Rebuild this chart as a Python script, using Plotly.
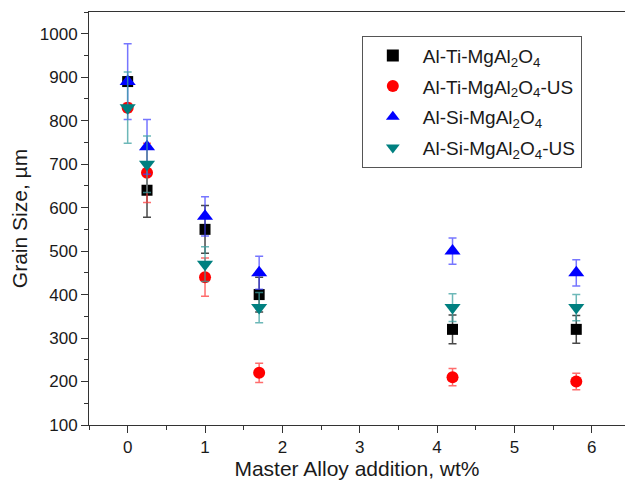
import plotly.graph_objects as go

x_vals = [0, 0.25, 1, 1.7, 4.2, 5.8]

ti = [890, 640, 550, 400, 320, 320]
ti_err = [10, 62, 55, 40, 33, 32]

ti_us = [830, 680, 440, 220, 210, 200]
ti_us_err = [10, 68, 44, 22, 20, 19]

si = [890, 740, 580, 450, 500, 450]
si_err = [87, 63, 45, 38, 30, 30]

si_us = [830, 700, 470, 370, 370, 370]
si_us_err = [82, 65, 40, 35, 32, 30]

names = ["Al-Ti-MgAl<sub>2</sub>O<sub>4</sub>",
         "Al-Ti-MgAl<sub>2</sub>O<sub>4</sub>-US",
         "Al-Si-MgAl<sub>2</sub>O<sub>4</sub>",
         "Al-Si-MgAl<sub>2</sub>O<sub>4</sub>-US"]

series = [
    (ti, ti_err, "square", "#000000", "rgba(40,40,40,0.85)", 11),
    (ti_us, ti_us_err, "circle", "#ff0000", "rgba(255,60,60,0.75)", 12),
    (si, si_err, "triangle-up", "#0000ff", "rgba(60,60,255,0.7)", 14),
    (si_us, si_us_err, "triangle-down", "#008080", "rgba(60,160,160,0.75)", 14),
]

fig = go.Figure()
for i, (name, (ys, errs, sym, col, ecol, sz)) in enumerate(zip(names, series)):
    fig.add_trace(go.Scatter(
        x=x_vals, y=ys, mode="markers", name=name, legendgroup=f"g{i}",
        marker=dict(symbol=sym, color=col, size=sz, line=dict(width=0)),
        error_y=dict(type="data", array=errs, visible=True,
                     color=ecol, thickness=1.5, width=4),
    ))

font_family = "Liberation Sans, Arial, sans-serif"

fig.update_layout(
    width=625, height=487,
    margin=dict(l=89, r=0, t=12, b=62, autoexpand=False),
    paper_bgcolor="white", plot_bgcolor="white",
    font=dict(family=font_family, color="#1a1a1a"),
    showlegend=True,
    legend=dict(
        x=0.509, y=0.943, xanchor="left", yanchor="top",
        bordercolor="#555555", borderwidth=1,
        font=dict(size=19, family=font_family, color="#1a1a1a"),
        itemsizing="constant", tracegroupgap=3, itemwidth=50,
    ),
    xaxis=dict(
        range=[-0.5, 6.43], showgrid=False, zeroline=False, automargin=False,
        showline=True, linecolor="#333333", linewidth=1, mirror=True,
        ticks="outside", ticklen=7, tickcolor="#333333", dtick=1, tick0=0,
        minor=dict(ticks="outside", ticklen=4, dtick=0.5, tick0=0, tickcolor="#333333"),
        tickfont=dict(size=17),
        title=dict(text="Master Alloy addition, wt%", font=dict(size=21), standoff=0),
    ),
    yaxis=dict(
        range=[100, 1050], showgrid=False, zeroline=False, automargin=False,
        showline=True, linecolor="#333333", linewidth=1,
        ticks="outside", ticklen=7, tickcolor="#333333", dtick=100, tick0=0,
        minor=dict(ticks="outside", ticklen=4, dtick=50, tick0=0, tickcolor="#333333"),
        tickfont=dict(size=17),
        title=dict(text="Grain Size, µm", font=dict(size=21), standoff=6),
    ),
)

fig.write_html("out.html", config={"displayModeBar": False},
               post_script="document.body.style.margin='0';document.body.style.overflow='hidden';")
